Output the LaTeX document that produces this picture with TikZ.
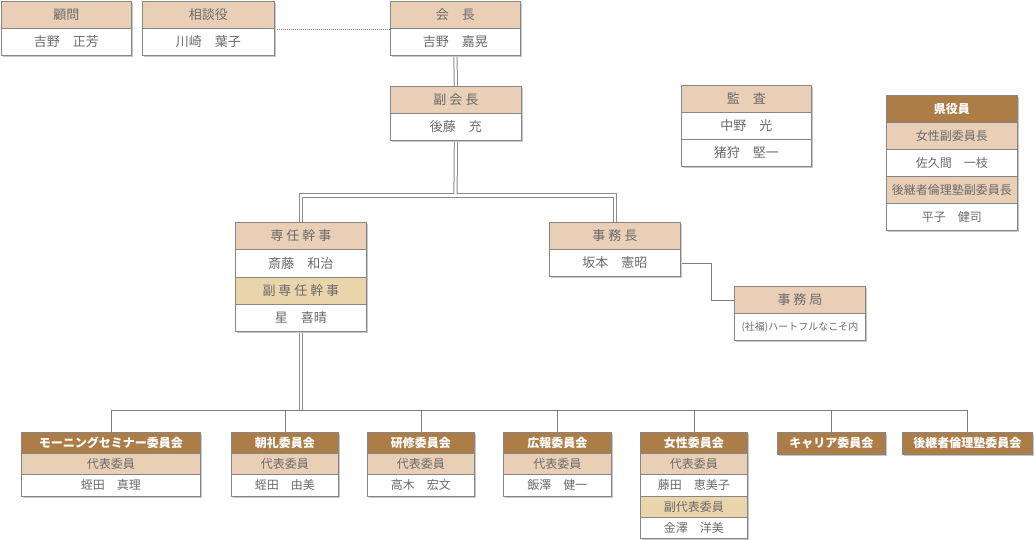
\documentclass[tikz,border=0pt]{standalone}
\usepackage{fontspec}
\setmainfont{Noto Sans CJK JP}
\usetikzlibrary{shadows}
\definecolor{tanc}{HTML}{E8CFB6}
\definecolor{darkc}{HTML}{AD7D48}
\definecolor{palec}{HTML}{EAD4AC}
\definecolor{bdc}{HTML}{868686}
\definecolor{txc}{HTML}{6B6B6B}
\definecolor{lnc}{HTML}{7C7C7C}
\pgfdeclarelayer{background}
\pgfsetlayers{background,main}
\tikzset{
  cell/.style={draw=bdc, line width=0.8pt, inner sep=0pt, anchor=north west, text=txc,
    drop shadow={shadow xshift=1.3pt, shadow yshift=-1.3pt, fill=black!22, opacity=1}},
  hd/.style={fill=tanc},
  pl/.style={fill=palec},
  wt/.style={fill=white},
  big/.style={font=\fontsize{13}{13}\selectfont},
  sm/.style={font=\fontsize{12}{12}\selectfont},
  xs/.style={font=\fontsize{10}{10}\selectfont},
  dk/.style={fill=darkc, text=white, font=\fontsize{12}{12}\selectfont\bfseries},
  conn/.style={draw=lnc, line width=0.8pt},
  dblout/.style={draw=black!45, line width=4.2pt},
  dblin/.style={draw=white, line width=2.2pt},
  dotc/.style={draw=black!50, line width=0.6pt, dash pattern=on 1pt off 1pt},
}
\newcommand{\cel}[7]{\node[cell,#6,minimum width={(#4-#2)*1pt},minimum height={(#5-#3)*1pt}] (#1) at (#2,#3) {#7};}
\begin{document}
\begin{tikzpicture}[x=1pt,y=-1pt]
\useasboundingbox (0,0) rectangle (1035,539);
% top row
\cel{komonH}{1}{1}{131}{28}{hd,big}{顧問}
\cel{komonB}{1}{28}{131}{55}{wt,big}{吉野　正芳}
\cel{soudanH}{142}{1}{274}{28}{hd,big}{相談役}
\cel{soudanB}{142}{28}{274}{55}{wt,big}{川崎　葉子}
\cel{kaichoH}{390}{1}{520}{28}{hd,big}{会　長}
\cel{kaichoB}{390}{28}{520}{55}{wt,big}{吉野　嘉晃}
\cel{fukuH}{390}{86}{521}{113}{hd,big}{副 会 長}
\cel{fukuB}{390}{113}{521}{140}{wt,big}{後藤　充}
\cel{kansaH}{681}{85}{811}{112}{hd,big}{監　査}
\cel{kansaA}{681}{112}{811}{139}{wt,big}{中野　光}
\cel{kansaB}{681}{139}{811}{166}{wt,big}{猪狩　堅一}
\cel{kenH}{886}{95}{1017}{122}{dk}{県役員}
\cel{kenA}{886}{122}{1017}{149}{hd,sm}{女性副委員長}
\cel{kenB}{886}{149}{1017}{176}{wt,sm}{佐久間　一枝}
\cel{kenC}{886}{176}{1017}{203}{hd,sm}{後継者倫理塾副委員長}
\cel{kenD}{886}{203}{1017}{230}{wt,sm}{平子　健司}
\cel{senH}{235}{222}{366}{249}{hd,big}{専 任 幹 事}
\cel{senB}{235}{249}{366}{277}{wt,big}{斎藤　和治}
\cel{fsenH}{235}{277}{366}{304}{pl,big}{副 専 任 幹 事}
\cel{fsenB}{235}{304}{366}{331}{wt,big}{星　喜晴}
\cel{jchoH}{549}{222}{680}{249}{hd,big}{事 務 長}
\cel{jchoB}{549}{249}{680}{276}{wt,big}{坂本　憲昭}
\cel{jkyH}{734}{286}{865}{313}{hd,big}{事 務 局}
\cel{jkyB}{734}{313}{865}{340}{wt,xs}{(社福)ハートフルなこそ内}
% committees
\cel{morH}{21}{432}{200}{453}{dk}{モーニングセミナー委員会}
\cel{morA}{21}{453}{200}{474}{hd,sm}{代表委員}
\cel{morB}{21}{474}{200}{496}{wt,sm}{蛭田　真理}
\cel{choH}{231}{432}{338}{453}{dk}{朝礼委員会}
\cel{choA}{231}{453}{338}{474}{hd,sm}{代表委員}
\cel{choB}{231}{474}{338}{496}{wt,sm}{蛭田　由美}
\cel{kenshuH}{367}{432}{474}{453}{dk}{研修委員会}
\cel{kenshuA}{367}{453}{474}{474}{hd,sm}{代表委員}
\cel{kenshuB}{367}{474}{474}{496}{wt,sm}{高木　宏文}
\cel{kohoH}{503}{432}{611}{453}{dk}{広報委員会}
\cel{kohoA}{503}{453}{611}{474}{hd,sm}{代表委員}
\cel{kohoB}{503}{474}{611}{496}{wt,sm}{飯澤　健一}
\cel{joH}{640}{432}{747}{453}{dk}{女性委員会}
\cel{joA}{640}{453}{747}{474}{hd,sm}{代表委員}
\cel{joB}{640}{474}{747}{496}{wt,sm}{藤田　恵美子}
\cel{joC}{640}{496}{747}{517}{pl,sm}{副代表委員}
\cel{joD}{640}{517}{747}{538}{wt,sm}{金澤　洋美}
\cel{carH}{777}{432}{885}{454}{dk}{キャリア委員会}
\cel{kouH}{902}{432}{1032}{454}{dk}{後継者倫理塾委員会}
% connectors
\coordinate (jn) at (455.5,195.5);
\coordinate (bus) at (0,410);
\coordinate (mid) at (711,0);
\begin{pgfonlayer}{background}
\foreach \s in {dblout,dblin}{
  \draw[\s] (kaichoB.south) -- (fukuH.north);
  \draw[\s] (senH.north) |- (jn) -| (jchoH.north);
  \draw[\s] (fukuB.south) -- (jn);
  \draw[\s] (fsenB.south) -- (fsenB.south |- bus);
}
\draw[conn] (morH.north |- bus) -- (kouH.north |- bus);
\foreach \n in {morH,choH,kenshuH,kohoH,joH,carH,kouH}{
  \draw[conn] (\n.north) -- (\n.north |- bus);
}
\draw[conn] (jchoB.east) -- (jchoB.east -| mid) |- (jkyH.west);
\draw[dotc] (soudanH.south east) -- (kaichoH.south west);
\end{pgfonlayer}
\end{tikzpicture}
\end{document}
